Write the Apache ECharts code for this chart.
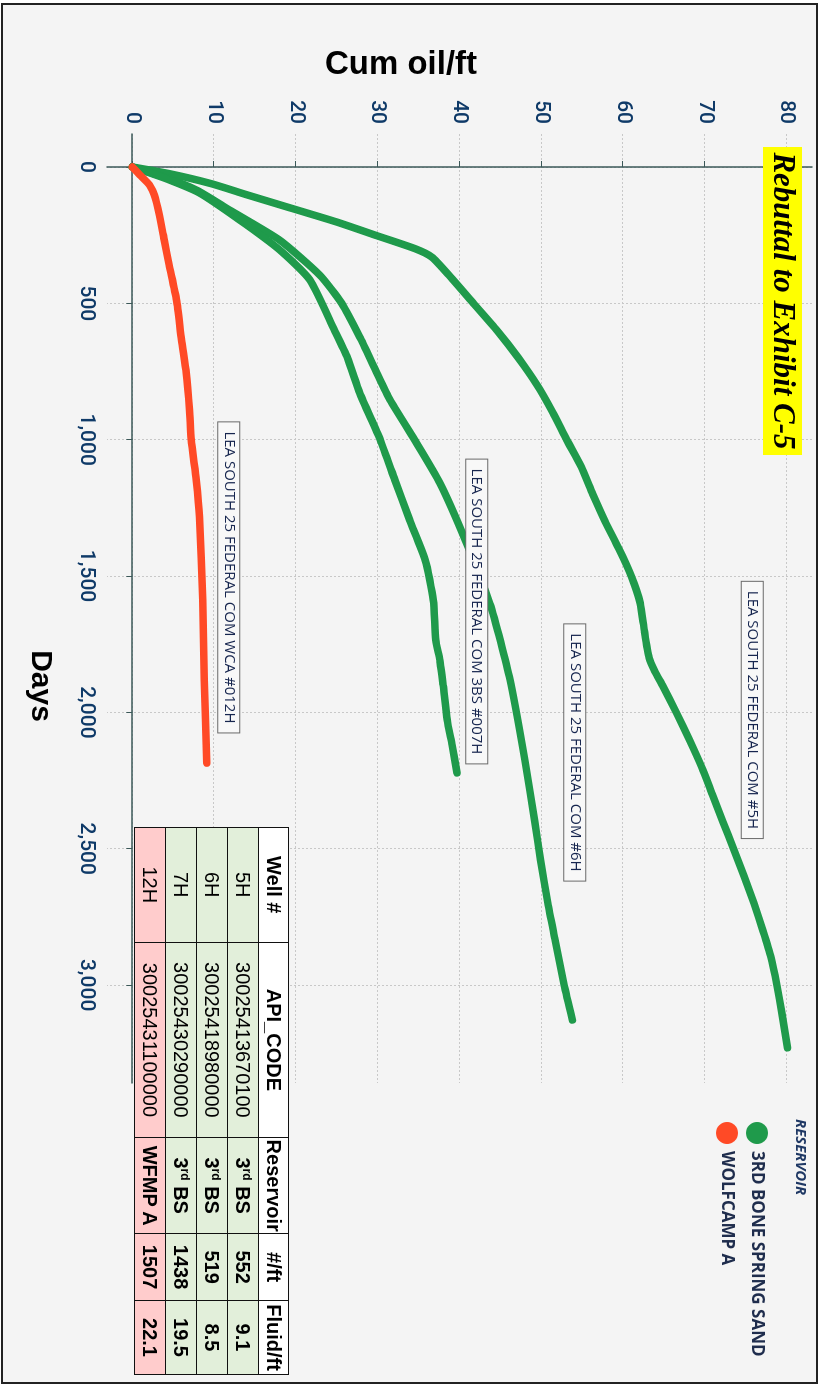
<!DOCTYPE html>
<html>
<head>
<meta charset="utf-8">
<script src="https://cdn.jsdelivr.net/npm/echarts@6/dist/echarts.min.js"></script>
<style>
  html, body { margin:0; padding:0; width:825px; height:1385px; overflow:hidden; background:#ffffff; }
  #wrap { position:absolute; left:0; top:0; width:1385px; height:825px; transform-origin:0 0; transform:translate(825px,0) rotate(90deg); background:#ffffff; }
  #frame { position:absolute; left:3px; top:7px; width:1381px; height:817px; box-sizing:border-box; border:2px solid #222; background:#f4f4f4; }
  #chart { position:absolute; left:0; top:0; width:1385px; height:825px; }
  #tbl { position:absolute; left:827px; top:536px; border-collapse:collapse; font-family:"Liberation Sans", Arial, sans-serif; font-size:20px; color:#000; }
  #tbl td, #tbl th { border:1.5px solid #111; padding:0; text-align:center; white-space:nowrap; }
  #tbl th { background:#ffffff; font-weight:bold; height:29px; }
  #tbl td { height:30px; }
  #tbl tr.g td { background:#e2efda; }
  #tbl tr.r td { background:#ffcccc; }
  #tbl td.b { font-weight:bold; }
  #tbl sup { font-size:12px; vertical-align:7px; line-height:0; }
</style>
</head>
<body>
<div id="wrap">
  <div id="frame"></div>
  <div id="chart"></div>
  <table id="tbl"></table>
</div>
<script>
// ---------------- data ----------------
const dayTicks = [0, 500, 1000, 1500, 2000, 2500, 3000];
const oilTicks = [0, 10, 20, 30, 40, 50, 60, 70, 80];

const days5H = [0, 25, 60, 100, 150, 200, 250, 300, 330, 400, 500, 600, 700, 800, 900, 1000, 1100, 1200, 1300, 1400, 1500, 1600, 1700, 1800, 1850, 1900, 2000, 2100, 2200, 2300, 2400, 2500, 2600, 2700, 2800, 2900, 3000, 3100, 3230];
const oil5H  = [0, 4.6, 9.5, 13.8, 19.3, 24.8, 29.7, 34.6, 36.6, 38.8, 41.7, 44.6, 47.2, 49.5, 51.4, 53.1, 54.9, 56.3, 57.8, 59.5, 61.0, 62.1, 62.6, 63.2, 63.9, 64.8, 66.5, 68.1, 69.6, 70.9, 72.2, 73.5, 74.8, 76.0, 77.1, 78.1, 78.8, 79.4, 80.1];

const days6H = [0, 40, 84, 158, 268, 396, 500, 623, 750, 854, 1000, 1159, 1368, 1600, 1881, 2175, 2400, 2541, 2700, 2835, 3000, 3128];
const oil6H  = [0, 4.2, 7.8, 11.9, 18.0, 22.9, 25.6, 27.8, 29.8, 31.5, 34.5, 37.6, 40.7, 43.7, 46.2, 48.0, 49.2, 49.9, 50.8, 51.7, 52.8, 53.8];

const days7H = [0, 45, 95, 194, 304, 414, 598, 700, 829, 1000, 1148, 1294, 1441, 1588, 1734, 1808, 1900, 2028, 2120, 2222];
const oil7H  = [0, 4.3, 8.2, 13.1, 18.0, 21.7, 24.7, 26.3, 27.8, 30.3, 32.1, 33.9, 35.8, 36.8, 37.1, 37.6, 38.0, 38.5, 39.1, 39.7];

const days12H = [0, 29, 66, 103, 176, 268, 359, 488, 634, 755, 891, 1000, 1148, 1283, 1588, 1881, 2186];
const oil12H  = [0, 0.9, 2.1, 2.7, 3.3, 3.9, 4.5, 5.4, 6.0, 6.6, 7.0, 7.2, 7.8, 8.2, 8.6, 8.8, 9.1];

const reservoirNames = ['3RD BONE SPRING SAND', 'WOLFCAMP A'];
const wellLabels = ['LEA SOUTH 25 FEDERAL COM #5H', 'LEA SOUTH 25 FEDERAL COM #6H', 'LEA SOUTH 25 FEDERAL COM 3BS #007H', 'LEA SOUTH 25 FEDERAL COM WCA #012H'];
const labelDays = [1991, 2147, 1630, 1505];
const labelOil  = [75.8, 54.1, 42.1, 11.8];

// table
const tblHeader = ['Well #', 'API_CODE', 'Reservoir', '#/ft', 'Fluid/ft'];
const tblWell = ['5H', '6H', '7H', '12H'];
const tblApi = ['30025413670100', '30025418980000', '30025430290000', '30025431100000'];
const tblRes = ['3rd BS', '3rd BS', '3rd BS', 'WFMP A'];
const tblPerFt = ['552', '519', '1438', '1507'];
const tblFluid = ['9.1', '8.5', '19.5', '22.1'];

// ---------------- table ----------------
(function () {
  const widths = [115, 196, 96, 67, 74];
  let h = '<colgroup>' + widths.map(w => '<col style="width:' + w + 'px">').join('') + '</colgroup>';
  h += '<tr>' + tblHeader.map(t => '<th>' + t + '</th>').join('') + '</tr>';
  for (let i = 0; i < tblWell.length; i++) {
    const cls = tblRes[i] === 'WFMP A' ? 'r' : 'g';
    const res = tblRes[i].replace(/^3rd/, '3<sup>rd</sup>');
    h += '<tr class="' + cls + '"><td>' + tblWell[i] + '</td><td>' + tblApi[i] + '</td><td class="b">' + res +
         '</td><td class="b">' + tblPerFt[i] + '</td><td class="b">' + tblFluid[i] + '</td></tr>';
  }
  document.getElementById('tbl').innerHTML = h;
  document.getElementById('tbl').style.width = widths.reduce((a, b) => a + b, 0) + 'px';
})();

// ---------------- chart ----------------
const zip = (a, b) => a.map((v, i) => [v, b[i]]);
const GREEN = '#1f9a4b';
const RED = '#ff4a26';
const labelStyle = {
  show: true, position: 'inside', fontFamily: 'Open Sans', fontSize: 15, color: '#17264f',
  backgroundColor: '#f8f8f8', borderColor: '#6a6a6a', borderWidth: 1, padding: [3, 9]
};
function mp(i) {
  return {
    symbol: 'rect', symbolSize: 1, itemStyle: { color: 'rgba(0,0,0,0)' }, silent: true,
    data: [{ coord: [labelDays[i], labelOil[i]], label: Object.assign({ formatter: wellLabels[i] }, labelStyle) }]
  };
}
function line(name, d, o, color, i) {
  return {
    name: name, type: 'line', data: zip(d, o), showSymbol: false, symbol: 'circle',
    smooth: 0.2,
    lineStyle: { width: 7.5, color: color, join: 'round', cap: 'round' }, itemStyle: { color: color }, z: 3,
    markPoint: mp(i)
  };
}

const chart = echarts.init(document.getElementById('chart'), null, { renderer: 'canvas', width: 1385, height: 825 });
const axisColor = '#3b5858';
const tickLabelColor = '#0f3a68';
chart.setOption({
  backgroundColor: 'transparent',
  animation: false,
  grid: { left: 134, right: 302, top: 13, bottom: 107, containLabel: false },
  xAxis: {
    type: 'value', min: -121, max: 3359,
    axisLine: { show: true, lineStyle: { color: axisColor, width: 1.5 } },
    axisTick: { show: true, customValues: dayTicks, length: 6, lineStyle: { color: axisColor } },
    axisLabel: { customValues: dayTicks, color: tickLabelColor, fontFamily: 'Roboto', fontWeight: 500, fontSize: 21, margin: 10,
      formatter: v => v.toLocaleString('en-US') },
    splitLine: { show: true, lineStyle: { color: '#c8c8c8', type: [2, 2], width: 1 } }
  },
  yAxis: {
    type: 'value', min: -3.1, max: 83.1,
    axisLine: { show: true, lineStyle: { color: axisColor, width: 1.5 } },
    axisTick: { show: true, customValues: oilTicks, length: 6, lineStyle: { color: axisColor } },
    axisLabel: { customValues: oilTicks, color: tickLabelColor, fontFamily: 'Roboto', fontWeight: 500, fontSize: 21, margin: 10 },
    splitLine: { show: true, lineStyle: { color: '#c8c8c8', type: [2, 2], width: 1 } }
  },
  legend: {
    orient: 'vertical', left: 1117, top: 52, itemWidth: 22, itemHeight: 22, itemGap: 8, icon: 'circle',
    data: reservoirNames,
    textStyle: { fontFamily: 'Open Sans', fontWeight: 'bold', fontSize: 17, color: '#1f2d4d', padding: [0, 0, 0, 2] }
  },
  series: [
    line(reservoirNames[0], days5H, oil5H, GREEN, 0),
    line(reservoirNames[0], days6H, oil6H, GREEN, 1),
    line(reservoirNames[0], days7H, oil7H, GREEN, 2),
    line(reservoirNames[1], days12H, oil12H, RED, 3)
  ],
  graphic: [
    { type: 'rect', shape: { x: 147, y: 23, width: 308, height: 39 }, style: { fill: '#ffff00' }, z: 50 },
    { type: 'text', x: 301, y: 43, z: 51, style: { text: 'Rebuttal to Exhibit C-5', font: 'italic bold 31px "Liberation Serif"', fill: '#000', align: 'center', verticalAlign: 'middle' } },
    { type: 'text', x: 65, y: 424, rotation: Math.PI / 2, z: 50, style: { text: 'Cum oil/ft', font: 'bold 33px "Liberation Sans"', fill: '#000', align: 'center', verticalAlign: 'middle' } },
    { type: 'text', x: 686, y: 785, z: 50, style: { text: 'Days', font: 'bold 30px "Liberation Sans"', fill: '#000', align: 'center', verticalAlign: 'middle' } },
    { type: 'text', x: 1119, y: 25, z: 50, style: { text: 'RESERVOIR', font: 'italic bold 15px "Open Sans"', fill: '#1f3864', align: 'left', verticalAlign: 'middle' } }
  ]
});
</script>
</body>
</html>
